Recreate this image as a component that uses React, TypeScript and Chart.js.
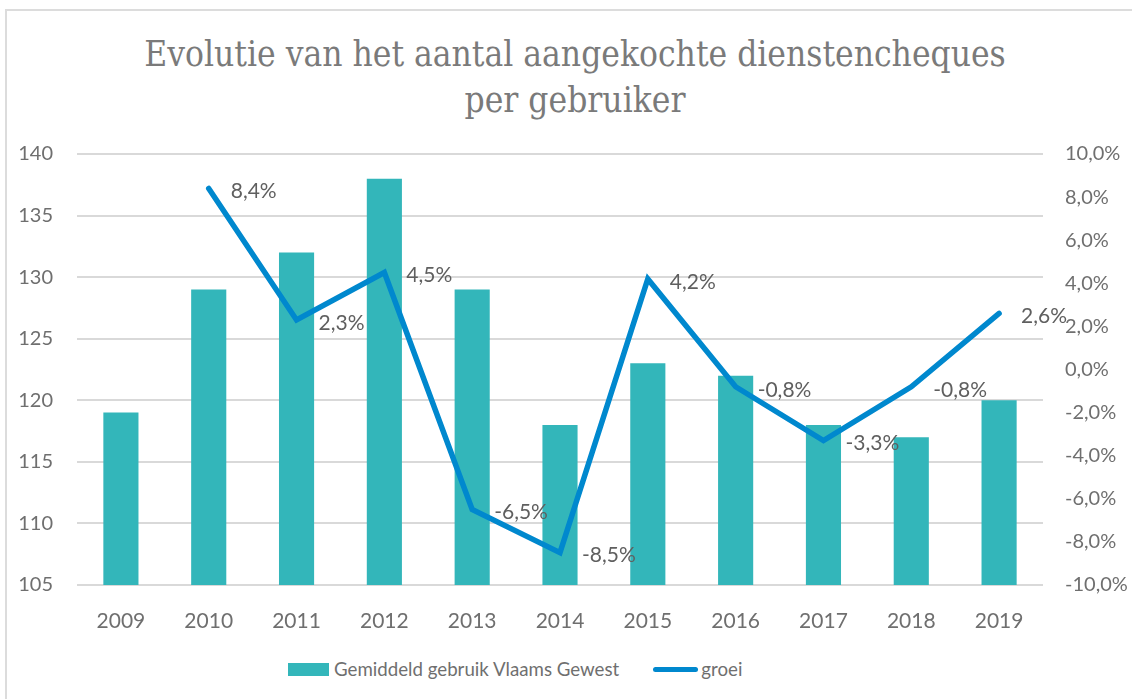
import React, { useEffect, useRef } from "react";
import { Chart, registerables } from "chart.js";

Chart.register(...registerables);

const years = ["2009", "2010", "2011", "2012", "2013", "2014", "2015", "2016", "2017", "2018", "2019"];
const gebruik = [119, 129, 132, 138, 129, 118, 123, 122, 118, 117, 120];
const groei: (number | null)[] = [null, 8.4, 2.3, 4.5, -6.5, -8.5, 4.2, -0.8, -3.3, -0.8, 2.6];
const titleLines = ["Evolutie van het aantal aangekochte dienstencheques", "per gebruiker"];
const barLabel = "Gemiddeld gebruik Vlaams Gewest";
const lineLabel = "groei";

const BAR_COLOR = "#33B6BA";
const LINE_COLOR = "#0088CE";
const TEXT = "#6f6f6f";
const SANS = "Lato, 'Noto Sans', sans-serif";

const fmtPct = (v: number) => v.toFixed(1).replace(".", ",") + "%";

const labelPlugin = {
  id: "pointLabels",
  afterDatasetsDraw(chart: any) {
    const ctx = chart.ctx;
    const meta = chart.getDatasetMeta(1);
    ctx.save();
    ctx.font = `21px ${SANS}`;
    ctx.fillStyle = "#5f5f5f";
    ctx.textAlign = "left";
    ctx.textBaseline = "middle";
    meta.data.forEach((pt: any, i: number) => {
      const v = groei[i];
      if (v === null || v === undefined) return;
      ctx.fillText(fmtPct(v), pt.x + 22, pt.y + 3);
    });
    ctx.restore();
  },
};

export default function App() {
  const ref = useRef<HTMLCanvasElement | null>(null);

  useEffect(() => {
    document.body.style.margin = "0";
    const chart = new Chart(ref.current!, {
      type: "bar",
      data: {
        labels: years,
        datasets: [
          {
            type: "bar",
            label: barLabel,
            data: gebruik,
            backgroundColor: BAR_COLOR,
            barPercentage: 0.4,
            categoryPercentage: 1,
            yAxisID: "y",
            order: 1,
          },
          {
            type: "line",
            label: lineLabel,
            data: groei,
            borderColor: LINE_COLOR,
            borderWidth: 5.5,
            pointRadius: 0,
            borderCapStyle: "round",
            spanGaps: false,
            yAxisID: "y1",
            order: 0,
          } as any,
        ],
      },
      options: {
        animation: false,
        responsive: false,
        layout: { padding: { top: 23, left: 0, right: 0, bottom: 0 } },
        plugins: {
          legend: { display: false },
          title: { display: false },
          tooltip: { enabled: false },
        },
        scales: {
          x: {
            grid: { display: false },
            border: { display: false },
            ticks: { color: TEXT, font: { family: SANS, size: 21 }, padding: 16 },
            afterFit: (s: any) => { s.height = 55; },
          },
          y: {
            position: "left",
            min: 105,
            max: 140,
            ticks: { stepSize: 5, color: TEXT, font: { family: SANS, size: 20 }, padding: 24 },
            grid: { color: "#d9d9d9", lineWidth: 2, drawTicks: false },
            border: { display: false },
            afterFit: (s: any) => { s.width = 77; },
          },
          y1: {
            position: "right",
            min: -10,
            max: 10,
            ticks: {
              stepSize: 2,
              color: TEXT,
              font: { family: SANS, size: 20 },
              padding: 22,
              callback: (v: any) => fmtPct(Number(v)),
            },
            grid: { display: false, drawTicks: false },
            border: { display: false },
            afterFit: (s: any) => { s.width = 89; },
          },
        },
      },
      plugins: [labelPlugin],
    });
    return () => chart.destroy();
  }, []);

  return (
    <div style={{ position: "relative", width: 1132, height: 699, overflow: "hidden", background: "#fff" }}>
      <div
        style={{
          position: "absolute",
          left: 5,
          top: 9,
          width: 1200,
          height: 800,
          border: "2px solid #dcdcdc",
          boxSizing: "border-box",
        }}
      />
      <div
        style={{
          position: "absolute",
          left: 0,
          top: 31,
          width: 1150,
          textAlign: "center",
          fontFamily: "'DejaVu Serif', serif",
          fontStretch: "condensed",
          fontSize: 35,
          lineHeight: "46px",
          color: "#7a7a7a",
        }}
      >
        <div>{titleLines[0]}</div>
        <div>{titleLines[1]}</div>
      </div>
      <canvas ref={ref} width={1132} height={522} style={{ position: "absolute", left: 0, top: 118 }} />
      <div
        style={{
          position: "absolute",
          top: 656,
          left: 288,
          display: "flex",
          alignItems: "center",
          fontFamily: SANS,
          fontSize: 18.7,
          color: TEXT,
          height: 26,
        }}
      >
        <span style={{ display: "inline-block", width: 41, height: 13, background: BAR_COLOR, marginRight: 5 }} />
        <span>{barLabel}</span>
        <span
          style={{
            display: "inline-block",
            width: 45,
            height: 5,
            borderRadius: 3,
            background: LINE_COLOR,
            marginLeft: 34,
            marginRight: 3,
          }}
        />
        <span>{lineLabel}</span>
      </div>
    </div>
  );
}
